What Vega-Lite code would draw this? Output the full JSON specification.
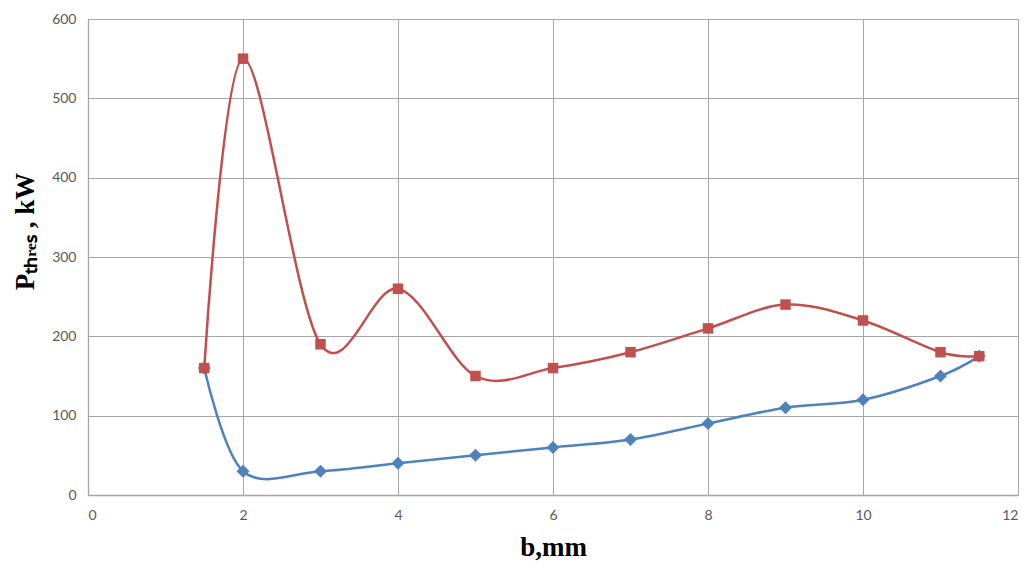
{
  "$schema": "https://vega.github.io/schema/vega-lite/v6.json",
  "autosize": "none",
  "width": 930,
  "height": 476,
  "padding": {"left": 88, "top": 19, "right": 8, "bottom": 70},
  "background": "white",
  "data": {"values": [
    {"b": 1.5, "p": 160, "s": "red"},
    {"b": 2, "p": 550, "s": "red"},
    {"b": 3, "p": 190, "s": "red"},
    {"b": 4, "p": 260, "s": "red"},
    {"b": 5, "p": 150, "s": "red"},
    {"b": 6, "p": 160, "s": "red"},
    {"b": 7, "p": 180, "s": "red"},
    {"b": 8, "p": 210, "s": "red"},
    {"b": 9, "p": 240, "s": "red"},
    {"b": 10, "p": 220, "s": "red"},
    {"b": 11, "p": 180, "s": "red"},
    {"b": 11.5, "p": 175, "s": "red"},
    {"b": 1.5, "p": 160, "s": "blue"},
    {"b": 2, "p": 30, "s": "blue"},
    {"b": 3, "p": 30, "s": "blue"},
    {"b": 4, "p": 40, "s": "blue"},
    {"b": 5, "p": 50, "s": "blue"},
    {"b": 6, "p": 60, "s": "blue"},
    {"b": 7, "p": 70, "s": "blue"},
    {"b": 8, "p": 90, "s": "blue"},
    {"b": 9, "p": 110, "s": "blue"},
    {"b": 10, "p": 120, "s": "blue"},
    {"b": 11, "p": 150, "s": "blue"},
    {"b": 11.5, "p": 175, "s": "blue"}
  ]},
  "config": {
    "view": {"stroke": null},
    "axis": {
      "gridColor": "#a6a6a6", "gridWidth": 1, "domainColor": "#a6a6a6", "domainWidth": 1.3,
      "ticks": false, "labelFont": "Lato", "labelFontSize": 14, "labelColor": "#595959",
      "titleFont": "Liberation Serif", "titleFontWeight": "bold", "titleColor": "black"
    }
  },
  "encoding": {
    "x": {"field": "b", "type": "quantitative", "scale": {"domain": [0, 12], "nice": false},
      "axis": {"values": [0, 2, 4, 6, 8, 10, 12], "labelPadding": 13, "title": "b,mm", "titleFontSize": 27, "titlePadding": 12}},
    "y": {"field": "p", "type": "quantitative", "scale": {"domain": [0, 600], "nice": false},
      "axis": {"values": [0, 100, 200, 300, 400, 500, 600], "labelPadding": 12, "title": "Pₜₕᵣₑₛ , kW", "titleFontSize": 27, "titleX": -63, "titleY": 212, "titleBaseline": "middle"}},
    "color": {"field": "s", "type": "nominal", "scale": {"domain": ["red", "blue"], "range": ["#C0504D", "#4F81BD"]}, "legend": null}
  },
  "layer": [
    {"transform": [{"filter": "datum.s === 'blue'"}], "mark": {"type": "line", "interpolate": "cardinal", "tension": 0, "strokeWidth": 2.5}},
    {"transform": [{"filter": "datum.s === 'blue'"}], "mark": {"type": "point", "shape": "diamond", "filled": true, "size": 170, "opacity": 1}},
    {"transform": [{"filter": "datum.s === 'red'"}], "mark": {"type": "line", "interpolate": "cardinal", "tension": 0, "strokeWidth": 2.5}},
    {"transform": [{"filter": "datum.s === 'red'"}], "mark": {"type": "point", "shape": "square", "filled": true, "size": 110, "opacity": 1}}
  ]
}
